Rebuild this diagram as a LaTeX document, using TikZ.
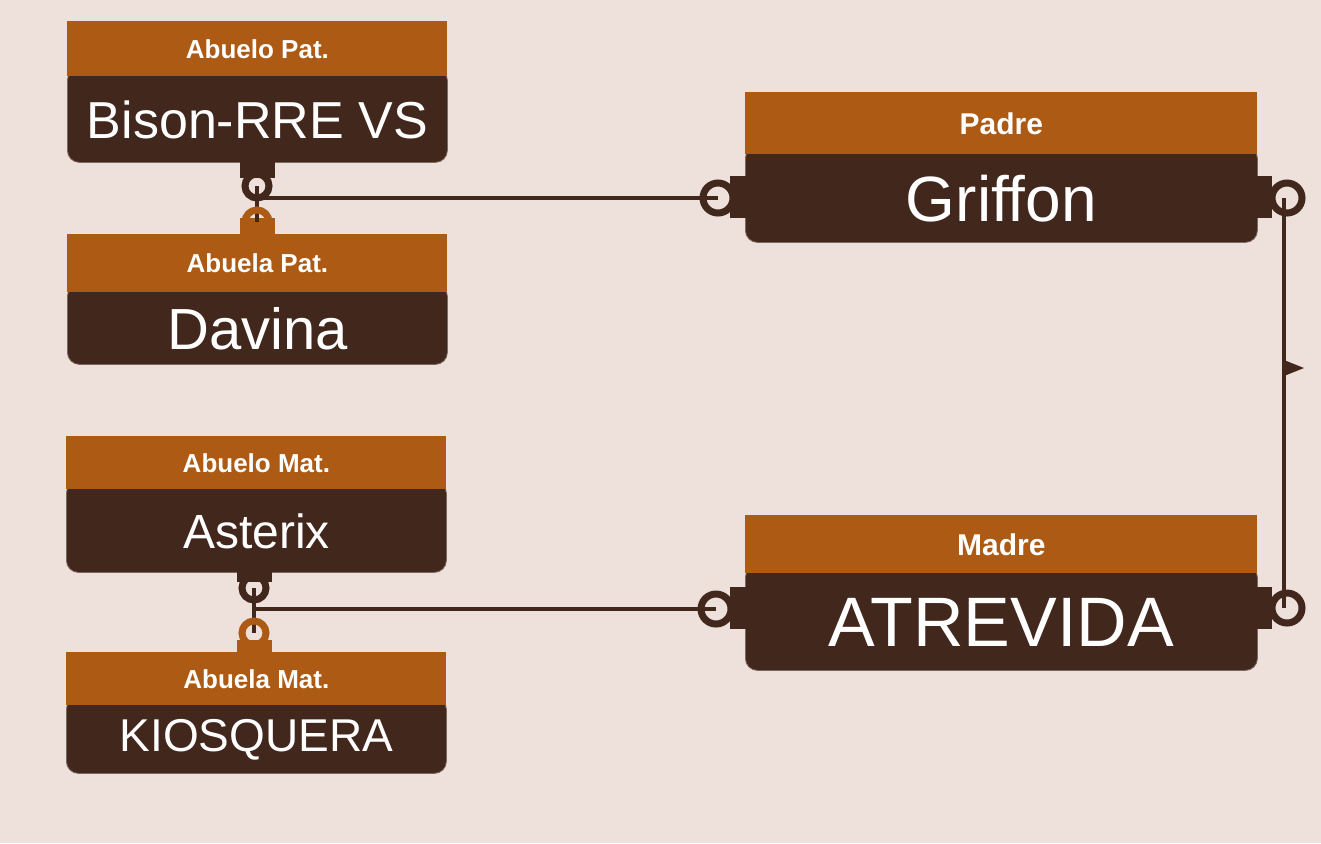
\documentclass[tikz,border=0pt]{standalone}
\usepackage{fontspec}
\setmainfont{Liberation Sans}
\usetikzlibrary{positioning,calc}
\definecolor{bgc}{HTML}{EEE0DA}
\definecolor{hdc}{HTML}{AD5A14}
\definecolor{bdc}{HTML}{42271D}
\tikzset{
  body/.style={fill=bdc, draw=bdc!70!white, rounded corners=6pt, minimum height=#1, inner sep=0pt, anchor=north west},
  head/.style={fill=hdc, minimum height=#1, text=white, font=\bfseries\fontsize{13}{15}\selectfont, inner sep=0pt, anchor=north west},
  dogname/.style={text=white, inner sep=0pt, font=\fontsize{#1}{#1}\selectfont},
  link/.style={draw=bdc, line width=2pt},
  ring/.style={draw=#1, line width=3.5pt, fill=none},
}
\begin{document}
\begin{tikzpicture}[x=0.5pt, y=-0.5pt]
  % canvas
  \fill[bgc] (0,0) rectangle (1321,843);
  \useasboundingbox (0,0) rectangle (1321,843);

  % paternal side
  \node[body=47pt, minimum width=190pt] (bison) at (67,68) {};
  \node[head=27.5pt, minimum width=190pt] (bisonH) at (67,21) {Abuelo Pat.};
  \node[dogname=26] (bisonT) at ($(bisonH.south)!0.5!(bison.south)$) {Bison-RRE VS};
  \node[body=40pt, minimum width=190pt] (davina) at (67,284) {};
  \node[head=29pt, minimum width=190pt] (davinaH) at (67,234) {Abuela Pat.};
  \node[dogname=29] (davinaT) at ($(davinaH.south)!0.5!(davina.south)$) {Davina};

  % maternal side
  \node[body=45.5pt, minimum width=190pt] (asterix) at (66,481) {};
  \node[head=26.5pt, minimum width=190pt] (asterixH) at (66,436) {Abuelo Mat.};
  \node[dogname=24] (asterixT) at ($(asterixH.south)!0.5!(asterix.south)$) {Asterix};
  \node[body=38pt, minimum width=190pt] (kios) at (66,697) {};
  \node[head=26.5pt, minimum width=190pt] (kiosH) at (66,652) {Abuela Mat.};
  \node[dogname=23] (kiosT) at ($(kiosH.south)!0.5!(kios.south)$) {KIOSQUERA};

  % parents
  \node[body=48pt, minimum width=256pt] (griffon) at (745,146) {};
  \node[head=31pt, minimum width=256pt, font=\bfseries\fontsize{15}{17}\selectfont] (griffonH) at (745,92) {Padre};
  \node[dogname=32] (griffonT) at ($(griffonH.south)!0.5!(griffon.south)$) {Griffon};
  \node[body=52.5pt, minimum width=256pt] (atrev) at (745,565) {};
  \node[head=29pt, minimum width=256pt, font=\bfseries\fontsize{15}{17}\selectfont] (atrevH) at (745,515) {Madre};
  \node[dogname=35] (atrevT) at ($(atrevH.south)!0.5!(atrev.south)$) {ATREVIDA};

  % connector tabs
  \fill[bdc] (240,160) rectangle (275,178);
  \fill[hdc] (240,218) rectangle (275,234);
  \fill[bdc] (237,570) rectangle (272,582);
  \fill[hdc] (237,640) rectangle (272,652);
  \fill[bdc] (730,176) rectangle (746,218);
  \fill[bdc] (1256,176) rectangle (1272,218);
  \fill[bdc] (730,587) rectangle (746,629);
  \fill[bdc] (1256,587) rectangle (1272,629);

  % join points
  \coordinate (pA) at (257,186);
  \coordinate (pB) at (257,222);
  \coordinate (pJ) at (257,198);
  \coordinate (mA) at (254,588);
  \coordinate (mB) at (254,633);
  \coordinate (mJ) at (254,609);
  \coordinate (gL) at (718,198);
  \coordinate (gR) at (1287,198);
  \coordinate (aL) at (716,609);
  \coordinate (aR) at (1287,608);

  % lines
  \draw[link] (pA) -- (pB);
  \draw[link] (pJ) -- (gL);
  \draw[link] (mA) -- (mB);
  \draw[link] (mJ) -- (aL);
  \draw[link] (1284,198) -- (1284,608);
  \fill[bdc] (1284,360) -- (1304,368) -- (1284,376) -- cycle;

  % rings
  \draw[ring=bdc] (pA) circle (6pt);
  \draw[ring=hdc] (pB) circle (6pt);
  \draw[ring=bdc] (mA) circle (6pt);
  \draw[ring=hdc] (mB) circle (6pt);
  \foreach \c in {gL,gR,aL,aR}
    \draw[ring=bdc] (\c) circle (7.5pt);
\end{tikzpicture}
\end{document}
